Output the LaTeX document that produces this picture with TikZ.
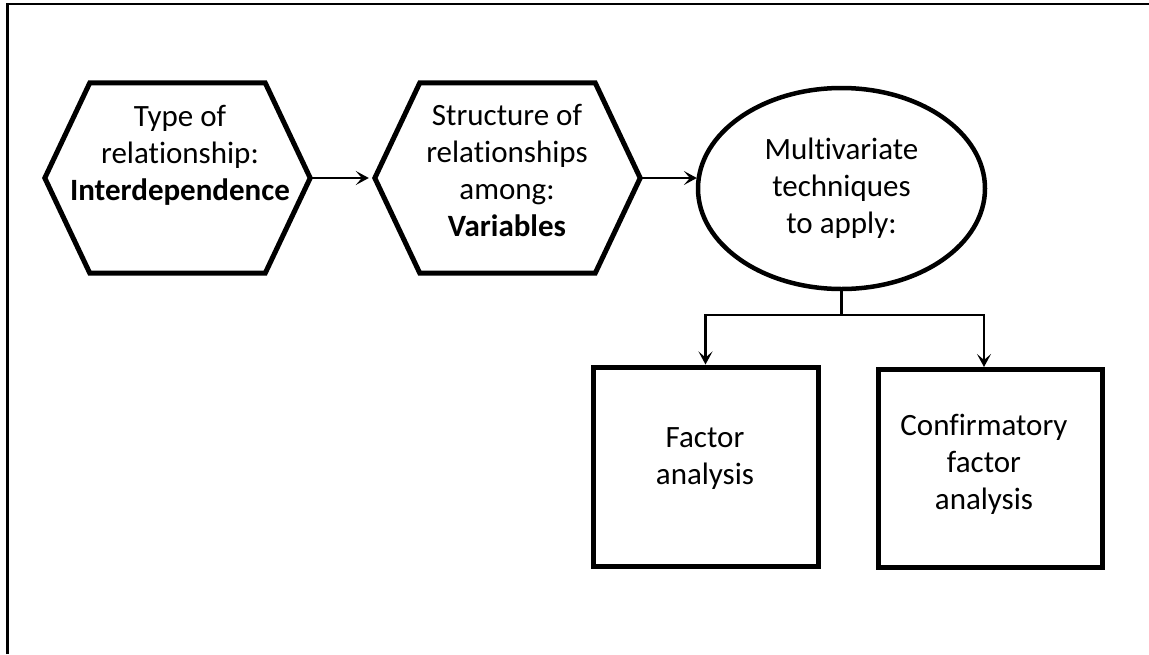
\documentclass[tikz,border=0pt]{standalone}
\usepackage{fontspec}
\setmainfont{Carlito}[Ligatures=NoCommon]
\usetikzlibrary{arrows.meta,calc,shapes.geometric}

\tikzset{
  txt/.style={inner sep=0pt, align=center, font=\fontsize{31}{37}\selectfont},
  hexframe/.style={draw=none, rectangle, minimum width=265pt, minimum height=190pt, inner sep=0pt},
  thick outline/.style={line width=5pt, line join=miter},
  boxnode/.style={draw, line width=5pt, rectangle, inner sep=0pt},
  ovalnode/.style={draw, line width=4.5pt, ellipse, inner sep=0pt,
                   minimum width=287pt, minimum height=201pt, txt},
  link/.style={line width=2.6pt},
  arr/.style={link, -{Stealth[length=13pt, width=14pt, inset=6pt]}},
}

% hexagon outline drawn around a rectangular frame node
\newcommand{\hexoutline}[1]{%
  \draw[thick outline]
    ($(#1.north west)+(45,0)$) -- ($(#1.north east)+(-45,0)$) -- (#1.east)
    -- ($(#1.south east)+(-45,0)$) -- ($(#1.south west)+(45,0)$) -- (#1.west) -- cycle;}

\begin{document}
\begin{tikzpicture}[x=1pt, y=-1pt]
  \useasboundingbox (0,0) rectangle (1149,654);

  % page frame (left and top edges)
  \draw[line width=2.5pt] (7.5,654) -- (7.5,4) -- (1149,4);

  % hexagon 1
  \node[hexframe] (h1) at (177.5,178) {};
  \hexoutline{h1}
  \node[txt] (h1t) at (180,155) {Type of\\relationship:\\\textbf{Interdependence}};

  % hexagon 2
  \node[hexframe] (h2) at (507.5,178) {};
  \hexoutline{h2}
  \node[txt] (h2t) at (507,170) {Structure of\\relationships\\among:\\\textbf{Variables}};

  % ellipse
  \node[ovalnode] (e) at (841.5,188.5) {Multivariate\\techniques\\to apply:};

  % result boxes
  \node[boxnode, minimum width=225pt, minimum height=199pt] (b1) at (705.5,466.5) {};
  \node[txt] (b1t) at (705,459) {Factor\\analysis};
  \node[boxnode, minimum width=224pt, minimum height=198pt] (b2) at (990,468.5) {};
  \node[txt] (b2t) at (984,464) {Confirmatory\\factor\\analysis};

  % connectors
  \draw[arr, shorten >=6pt] (h1.east) -- (h2.west);
  \draw[arr] (h2.east) -- (e.175 |- h2.east);
  \coordinate (br) at (e.south |- 0,315);
  \draw[link] (e.south) -- (br);
  \draw[arr] (br) -| (b1.north);
  \draw[arr] (br) -| ($(b2.north)+(-6,0)$);
\end{tikzpicture}
\end{document}
